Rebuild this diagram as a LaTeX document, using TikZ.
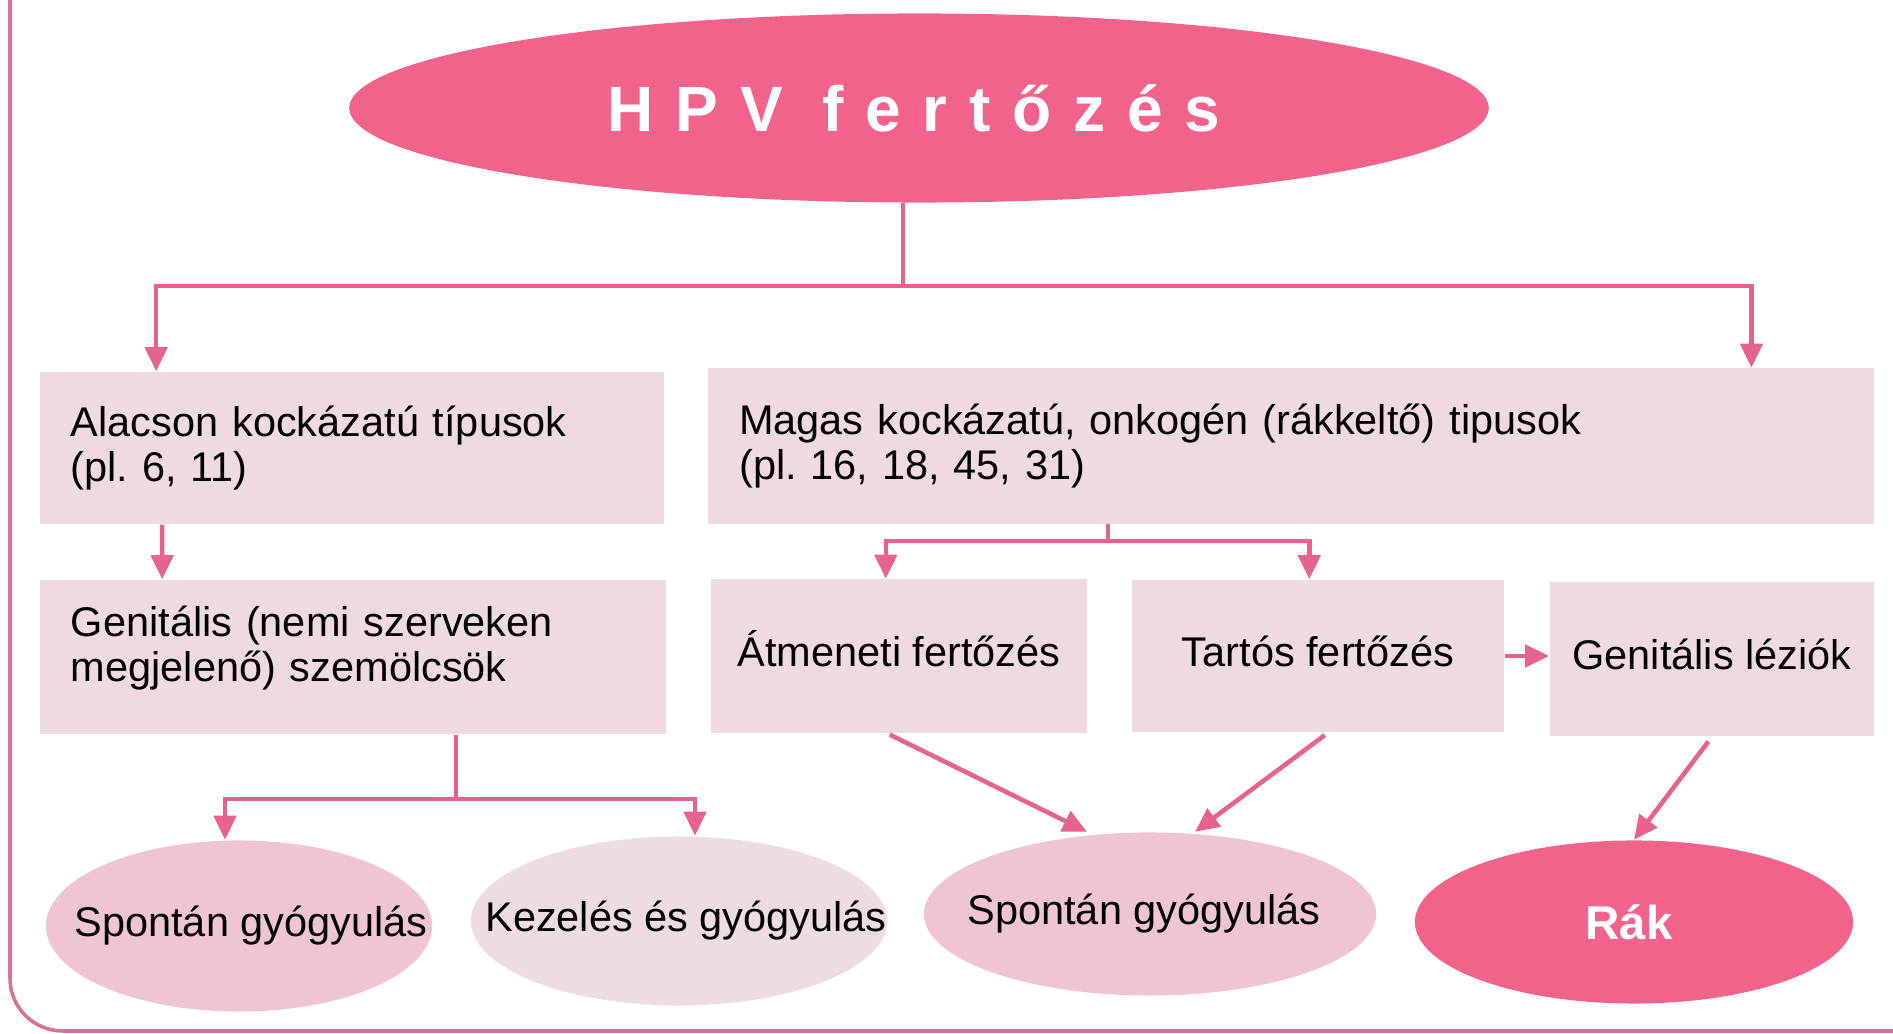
\documentclass[tikz,border=0pt]{standalone}
\usepackage{fontspec}
\setmainfont{Liberation Sans}
\usepackage{tikz}
\usepackage{xcolor}
\usetikzlibrary{arrows.meta,positioning,shapes.geometric,calc}
\definecolor{hotpink}  {HTML}{F2638B}
\definecolor{boxpink}  {HTML}{F0DAE1}
\definecolor{healpink} {HTML}{F0C5D3}
\definecolor{treatpink}{HTML}{EEDCE3}
\definecolor{arrpink}  {HTML}{E8628E}
\definecolor{framepink}{HTML}{D9728F}
\newcommand{\boxfont}{\fontsize{11.8}{12.7}\selectfont}
\tikzset{
  titleoval/.style ={ellipse, fill=hotpink, inner sep=0pt,
                     minimum width=11.39cm, minimum height=1.89cm,
                     text=white, font=\fontsize{18.2}{20}\selectfont\bfseries\addfontfeatures{LetterSpace=34}},
  typebox/.style   ={rectangle, fill=boxpink, inner xsep=0.31cm, inner ysep=0pt,
                     align=left, font=\boxfont},
  stagebox/.style  ={rectangle, fill=boxpink, inner sep=0pt,
                     text height=0.8em, text depth=0.2em,
                     align=center, font=\boxfont},
  healoval/.style 2 args ={ellipse, fill=healpink, inner sep=0pt,
                     label={[font=\boxfont,xshift=#2]center:#1}},
  cancoval/.style  ={ellipse, fill=hotpink, inner sep=0pt,
                     label={[text=white,font=\fontsize{13.5}{15}\selectfont\bfseries,xshift=-0.05cm]center:#1}},
  flowline/.style  ={draw=arrpink, line width=1.3pt},
  flowarr/.style   ={flowline, -{Triangle[length=2.4mm,width=2.2mm]}},
}

\begin{document}
\frenchspacing
\begin{tikzpicture}[x=0.01cm,y=-0.01cm]
    \useasboundingbox (0,0) rectangle (1893,1034);
    % ----- frame -----
    \draw[framepink,line width=1pt,rounded corners=15] (10,-30) -- (10,1031) -- (1930,1031);

    % ----- top -----
    \node[titleoval] (hpv) at (919,108) {\hspace*{-0.1cm}HPV fertőzés};

    % ----- type boxes -----
    \node[typebox,text width=5.62cm,minimum height=1.52cm] (alacson) at (352,448)
      {Alacson kockázatú típusok\\(pl. 6, 11)};
    \node[typebox,text width=11.03cm,minimum height=1.55cm] (magas) at (1291,446)
      {Magas kockázatú, onkogén (rákkeltő) tipusok\\(pl. 16, 18, 45, 31)};

    \coordinate (fork1) at (903,286);
    \draw[flowline] (hpv.south -| fork1) -- (fork1);
    \draw[flowarr] (fork1) -| ([xshift=1.17cm]alacson.north west);
    \draw[flowarr] (fork1) -| ([xshift=-1.23cm]magas.north east);

    % ----- low risk branch -----
    \node[typebox,text width=5.64cm,minimum height=1.54cm,
          text height=9pt,text depth=20.6pt] (genszem) at (353,657)
      {Genitális (nemi szerveken\\megjelenő) szemölcsök};
    \draw[flowarr] ([xshift=1.23cm]alacson.south west) -- ([xshift=1.23cm]genszem.north west);

    \node[healoval={Spontán gyógyulás}{0.12cm},minimum width=3.86cm,minimum height=1.71cm] (spont1) at (239,926) {};
    \node[healoval={Kezelés és gyógyulás}{0.07cm},fill=treatpink,
          minimum width=4.16cm,minimum height=1.69cm] (kezel) at (679,921) {};

    \coordinate (fork3) at (456,799);
    \draw[flowline] (genszem.south -| fork3) -- (fork3);
    \draw[flowarr] (fork3) -| ([xshift=-0.14cm]spont1.north);
    \draw[flowarr] (fork3) -| ([xshift=0.16cm]kezel.north);

    % ----- high risk branch -----
    \node[stagebox,minimum width=3.75cm,minimum height=1.53cm] (atmen) at (899,656)
      {Átmeneti fertőzés};
    \node[stagebox,minimum width=3.72cm,minimum height=1.52cm] (tartos) at (1318,656)
      {Tartós fertőzés};
    \node[stagebox,minimum width=3.24cm,minimum height=1.54cm] (lezio) at (1712,659)
      {Genitális léziók};

    \coordinate (fork2) at (1108,541);
    \draw[flowline] (magas.south -| fork2) -- (fork2);
    \draw[flowarr] (fork2) -| ([xshift=1.75cm]atmen.north west);
    \draw[flowarr] (fork2) -| ([xshift=1.78cm]tartos.north west);
    \draw[flowarr] (tartos.east) -- (tartos.east -| lezio.west);

    \node[healoval={Spontán gyógyulás}{-0.06cm},minimum width=4.52cm,minimum height=1.63cm] (spont2) at (1150,914) {};
    \node[cancoval={Rák},minimum width=4.38cm,minimum height=1.63cm] (rak) at (1634,922) {};

    \draw[flowarr,shorten <=0.03cm] ([xshift=-0.12cm]atmen.south) -- ([xshift=-0.63cm]spont2.north);
    \draw[flowarr,shorten <=0.04cm] ([xshift=0.1cm]tartos.south) -- ([xshift=0.45cm]spont2.north);
    \draw[flowarr,shorten <=0.06cm] (lezio.south) -- (rak.north);
\end{tikzpicture}
\end{document}
